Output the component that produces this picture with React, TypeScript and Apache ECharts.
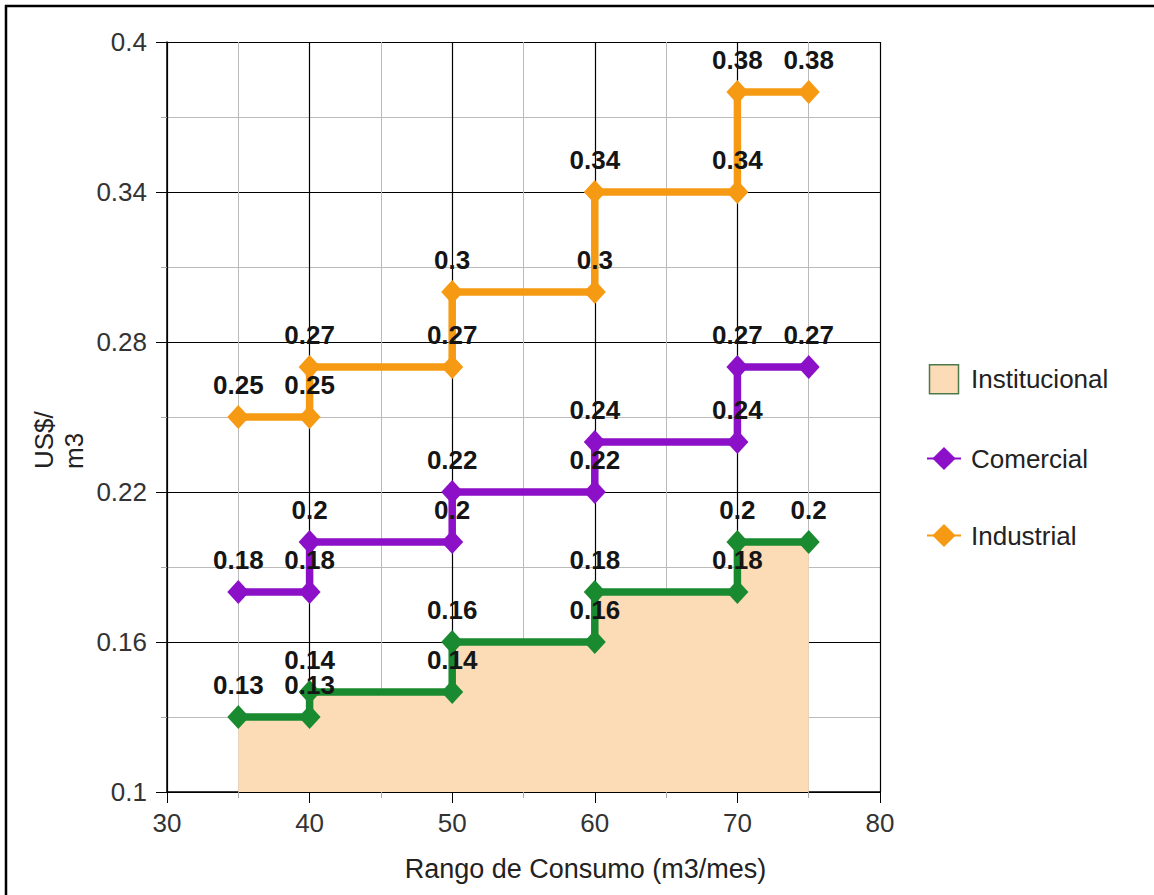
import React, { useEffect, useRef } from "react";
import * as echarts from "echarts";

const xSteps = [35, 40, 40, 50, 50, 60, 60, 70, 70, 75];
const institucional = [0.13, 0.13, 0.14, 0.14, 0.16, 0.16, 0.18, 0.18, 0.2, 0.2];
const comercial = [0.18, 0.18, 0.2, 0.2, 0.22, 0.22, 0.24, 0.24, 0.27, 0.27];
const industrial = [0.25, 0.25, 0.27, 0.27, 0.3, 0.3, 0.34, 0.34, 0.38, 0.38];

const GREEN = "#1a8a30";
const PURPLE = "#8b10c8";
const ORANGE = "#f59a12";
const PEACH = "#fcdcb6";
const FONT = "Liberation Sans";

const pairs = (ys: number[]) => xSteps.map((x, i) => [x, ys[i]]);

export default function App() {
  const ref = useRef<HTMLDivElement>(null);
  useEffect(() => {
    const chart = echarts.init(ref.current!, undefined, { renderer: "svg" });
    const label = {
      show: true,
      position: "top" as const,
      distance: 7,
      color: "#151515",
      fontSize: 26,
      fontWeight: "bold" as const,
      fontFamily: FONT,
      formatter: (p: any) => String(p.value[1]),
    };
    const lineSeries = (name: string, ys: number[], color: string, extra: any = {}) => ({
      name,
      type: "line",
      data: pairs(ys),
      symbol: "diamond",
      symbolSize: [22, 24],
      showAllSymbol: true,
      lineStyle: { color, width: 7.5 },
      itemStyle: { color },
      label,
      z: 3,
      ...extra,
    });
    chart.setOption({
      animation: false,
      backgroundColor: "#fff",
      grid: { left: 167, right: 274, top: 42, bottom: 103 },
      legend: {
        orient: "vertical",
        left: 921,
        top: 359,
        itemWidth: 34,
        itemHeight: 29,
        itemGap: 51,
        symbolKeepAspect: true,
        textStyle: { fontSize: 26, color: "#222", fontFamily: FONT, padding: [0, 0, 0, 5] },
        data: [
          {
            name: "Institucional",
            icon: "path://M0,0 L29,0 L29,29 L0,29 Z",
            itemStyle: { color: PEACH, borderColor: "#4d7a4d", borderWidth: 1.5 },
          },
          { name: "Comercial" },
          { name: "Industrial" },
        ],
      },
      xAxis: {
        type: "value",
        min: 30,
        max: 80,
        interval: 10,
        name: "Rango de Consumo (m3/mes)",
        nameLocation: "middle",
        nameGap: 63,
        nameTextStyle: {
          fontSize: 27,
          color: "#222",
          fontFamily: FONT,
          padding: [0, 0, 0, 124],
        },
        axisLine: { lineStyle: { color: "#000", width: 1.5 } },
        axisTick: { show: true, length: 11, lineStyle: { color: "#000" } },
        axisLabel: { fontSize: 26, color: "#333", fontFamily: FONT, margin: 18 },
        splitLine: { show: true, lineStyle: { color: "#000", width: 1.2 } },
        minorTick: { show: true, splitNumber: 2, length: 6, lineStyle: { color: "#aaa" } },
        minorSplitLine: { show: true, lineStyle: { color: "#bbb", width: 1 } },
      },
      yAxis: {
        type: "value",
        min: 0.1,
        max: 0.4,
        interval: 0.06,
        axisLine: { show: true, lineStyle: { color: "#000", width: 1.5 } },
        axisTick: { show: true, length: 11, lineStyle: { color: "#000" } },
        axisLabel: {
          fontSize: 26,
          color: "#333",
          fontFamily: FONT,
          margin: 20,
          formatter: (v: number) => String(+v.toFixed(2)),
        },
        splitLine: { show: true, lineStyle: { color: "#000", width: 1.2 } },
        minorTick: { show: true, splitNumber: 2, length: 6, lineStyle: { color: "#aaa" } },
        minorSplitLine: { show: true, lineStyle: { color: "#bbb", width: 1 } },
      },
      series: [
        lineSeries("Institucional", institucional, GREEN, {
          areaStyle: { color: PEACH, opacity: 1, origin: "start" },
          z: 2,
        }),
        lineSeries("Comercial", comercial, PURPLE),
        lineSeries("Industrial", industrial, ORANGE),
      ],
      graphic: [
        {
          type: "text",
          x: 59,
          y: 469,
          rotation: Math.PI / 2,
          style: {
            text: "US$/\nm3",
            fontSize: 26,
            fontFamily: FONT,
            fill: "#222",
            align: "left",
            verticalAlign: "middle",
            lineHeight: 30,
          },
        },
        { type: "line", shape: { x1: 5, y1: 6, x2: 1154, y2: 6 }, style: { stroke: "#000", lineWidth: 2.5 } },
        { type: "line", shape: { x1: 6, y1: 5, x2: 6, y2: 895 }, style: { stroke: "#000", lineWidth: 2.5 } },
      ],
    });
    return () => chart.dispose();
  }, []);
  return (
    <div
      ref={ref}
      style={{ position: "absolute", left: 0, top: 0, width: 1154, height: 895 }}
    />
  );
}
